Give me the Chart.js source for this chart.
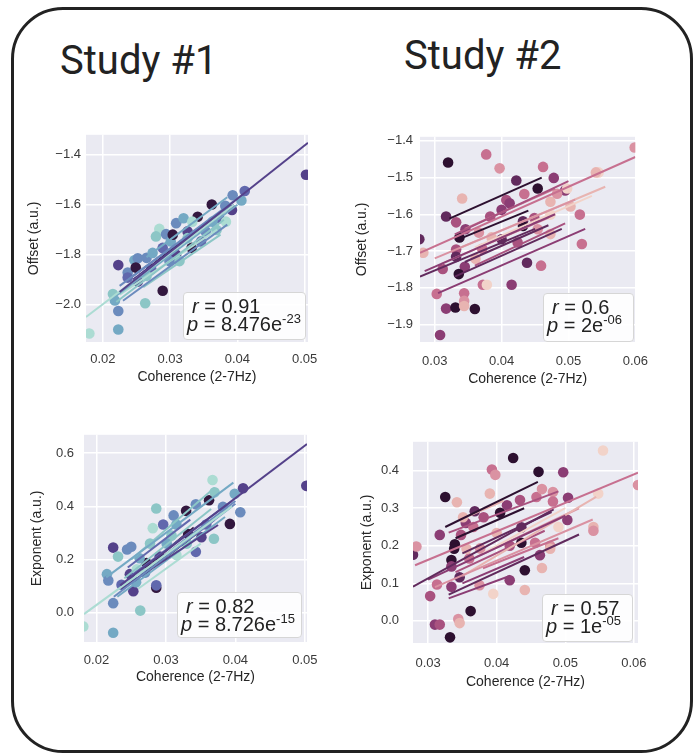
<!DOCTYPE html>
<html>
<head>
<meta charset="utf-8">
<script src="https://cdn.jsdelivr.net/npm/chart.js@4.4.1/dist/chart.umd.min.js"></script>
<style>
  body { margin: 0; background: #fff; width: 693px; height: 755px; overflow: hidden; position: relative;
         font-family: "Liberation Sans", Arial, sans-serif; }
  #frame { position: absolute; left: 11px; top: 7px; width: 676px; height: 740px;
           border: 3px solid #222; border-radius: 52px; }
  .title { position: absolute; font-family: Roboto, sans-serif; font-size: 40px; color: #222; line-height: 1; }
  canvas { position: absolute; }
  .stat { position: absolute; box-sizing: border-box; background: rgba(255,255,255,0.88);
          border: 1px solid #d6d6d6; border-radius: 4px; font-size: 20px; color: #222;
          line-height: 18px; padding: 4px 0 0 3px; white-space: nowrap; }
  .stat .r { padding-left: 5px; }
  .stat sup { font-size: 13px; line-height: 0; vertical-align: 8px; }
</style>
</head>
<body>
<div id="frame"></div>
<div class="title" style="left:60px;top:41px">Study #1</div>
<div class="title" style="left:404px;top:36px">Study #2</div>

<canvas id="s1off"></canvas>
<canvas id="s2off"></canvas>
<canvas id="s1exp"></canvas>
<canvas id="s2exp"></canvas>

<div class="stat" style="left:183px;top:292px;width:123px;height:48px">
  <div class="r"><i>r</i> = 0.91</div><div><i>p</i> = 8.476e<sup>-23</sup></div></div>
<div class="stat" style="left:543px;top:293px;width:91px;height:49px">
  <div class="r"><i>r</i> = 0.6</div><div><i>p</i> = 2e<sup>-06</sup></div></div>
<div class="stat" style="left:177px;top:592px;width:125px;height:46px">
  <div class="r"><i>r</i> = 0.82</div><div><i>p</i> = 8.726e<sup>-15</sup></div></div>
<div class="stat" style="left:542px;top:594px;width:91px;height:48px">
  <div class="r"><i>r</i> = 0.57</div><div><i>p</i> = 1e<sup>-05</sup></div></div>

<script>
// colour levels (one per subject group), light -> dark
const study1Colors = ['#acdcd3', '#8cc6c6', '#74a9c4', '#6b8bbd', '#6168ad', '#54418a', '#33183f'];
const study2Colors = ['#f2d3c9', '#e8b4b1', '#da92a2', '#c77090', '#a9527f', '#8b3d74', '#612a5d', '#2d1030'];

// tick labels
const study1CohTicks = [0.02, 0.03, 0.04, 0.05];
const study2CohTicks = [0.03, 0.04, 0.05, 0.06];
const study1OffsetTicks = [-2.0, -1.8, -1.6, -1.4];
const study2OffsetTicks = [-1.9, -1.8, -1.7, -1.6, -1.5, -1.4];
const study1ExpTicks = [0.0, 0.2, 0.4, 0.6];
const study2ExpTicks = [0.0, 0.1, 0.2, 0.3, 0.4];

// points: [coherence, value, colour level]
const study1OffsetPts = [
  [0.0502,-1.480,5],[0.0180,-2.116,0],[0.0223,-2.100,2],[0.0223,-2.026,3],[0.0263,-1.995,1],
  [0.0289,-1.945,6],[0.0215,-1.958,1],[0.0218,-1.984,2],[0.0223,-1.842,5],[0.0237,-1.872,3],
  [0.0252,-1.908,5],[0.0247,-1.823,2],[0.0252,-1.815,3],[0.0265,-1.813,3],[0.0284,-1.697,0],
  [0.0279,-1.727,1],[0.0294,-1.718,3],[0.0309,-1.674,3],[0.0320,-1.654,2],[0.0326,-1.707,5],
  [0.0341,-1.648,6],[0.0362,-1.599,6],[0.0382,-1.604,3],[0.0392,-1.621,5],[0.0406,-1.583,2],
  [0.0411,-1.545,4],[0.0369,-1.701,1],[0.0346,-1.747,4],[0.0332,-1.773,6],[0.0309,-1.800,5],
  [0.0272,-1.859,4],[0.0265,-1.885,1],[0.0249,-1.852,6],[0.0274,-1.793,2],[0.0289,-1.773,4],
  [0.0301,-1.747,2],[0.0326,-1.734,1],[0.0353,-1.707,3],[0.0373,-1.654,4],[0.0333,-1.668,0],
  [0.0304,-1.720,6],[0.0314,-1.826,1],[0.0237,-1.892,4],[0.0363,-1.668,2],[0.0299,-1.826,3],
  [0.0383,-1.668,0],[0.0393,-1.562,3]
];
const study2OffsetPts = [
  [0.0599,-1.418,2],[0.0320,-1.459,7],[0.0377,-1.437,3],[0.0397,-1.475,2],[0.0462,-1.471,3],
  [0.0478,-1.501,5],[0.0422,-1.508,6],[0.0454,-1.530,7],[0.0495,-1.535,5],[0.0545,-1.486,0],
  [0.0541,-1.486,1],[0.0341,-1.557,1],[0.0317,-1.606,6],[0.0332,-1.622,4],[0.0337,-1.663,7],
  [0.0346,-1.641,5],[0.0277,-1.668,6],[0.0283,-1.705,1],[0.0332,-1.696,4],[0.0332,-1.716,6],
  [0.0312,-1.749,4],[0.0345,-1.743,5],[0.0336,-1.763,7],[0.0303,-1.817,3],[0.0317,-1.857,5],
  [0.0331,-1.854,7],[0.0360,-1.858,7],[0.0344,-1.815,3],[0.0344,-1.836,2],[0.0344,-1.850,1],
  [0.0308,-1.929,5],[0.0372,-1.792,3],[0.0378,-1.792,0],[0.0415,-1.792,5],[0.0438,-1.732,6],
  [0.0459,-1.740,3],[0.0520,-1.681,3],[0.0517,-1.601,3],[0.0473,-1.654,1],[0.0432,-1.619,6],
  [0.0432,-1.632,7],[0.0400,-1.588,5],[0.0407,-1.561,4],[0.0434,-1.545,3],[0.0473,-1.566,1],
  [0.0483,-1.544,2],[0.0498,-1.530,0],[0.0383,-1.606,4],[0.0366,-1.650,2],[0.0385,-1.663,1],
  [0.0400,-1.668,6],[0.0424,-1.677,4],[0.0454,-1.641,2],[0.0473,-1.601,0],[0.0361,-1.721,1],
  [0.0371,-1.694,3],[0.0449,-1.610,4],[0.0412,-1.570,5],[0.0503,-1.579,1]
];
const study1ExpPts = [
  [0.0502,0.477,5],[0.0181,-0.052,0],[0.0224,-0.075,2],[0.0224,0.036,3],[0.0263,0.008,1],
  [0.0286,0.094,6],[0.0215,0.145,2],[0.0217,0.121,3],[0.0224,0.245,5],[0.0231,0.211,1],
  [0.0236,0.105,4],[0.0248,0.145,5],[0.0253,0.081,5],[0.0257,0.115,2],[0.0244,0.238,3],
  [0.0250,0.248,3],[0.0286,0.392,1],[0.0281,0.318,0],[0.0296,0.332,4],[0.0308,0.290,1],
  [0.0311,0.366,3],[0.0329,0.383,6],[0.0343,0.408,3],[0.0362,0.423,6],[0.0367,0.499,0],
  [0.0370,0.453,1],[0.0382,0.398,3],[0.0392,0.334,6],[0.0399,0.447,2],[0.0411,0.468,5],
  [0.0407,0.378,3],[0.0369,0.278,1],[0.0343,0.229,4],[0.0330,0.260,1],[0.0351,0.284,5],
  [0.0286,0.103,4],[0.0270,0.151,3],[0.0258,0.163,0],[0.0291,0.211,5],[0.0272,0.187,6],
  [0.0315,0.217,0],[0.0332,0.296,6],[0.0301,0.260,2],[0.0315,0.332,2],[0.0277,0.260,1],
  [0.0262,0.205,2],[0.0358,0.332,4]
];
const study2ExpPts = [
  [0.0555,0.454,0],[0.0606,0.362,2],[0.0424,0.434,7],[0.0461,0.397,7],[0.0497,0.396,5],
  [0.0393,0.403,3],[0.0398,0.389,2],[0.0325,0.330,7],[0.0390,0.339,1],[0.0342,0.316,1],
  [0.0278,0.176,6],[0.0283,0.198,2],[0.0317,0.229,5],[0.0339,0.204,7],[0.0355,0.261,5],
  [0.0334,0.162,7],[0.0334,0.145,5],[0.0348,0.229,4],[0.0346,0.116,6],[0.0313,0.097,3],
  [0.0303,0.066,4],[0.0310,-0.010,5],[0.0317,-0.010,4],[0.0332,-0.044,7],[0.0362,0.026,7],
  [0.0344,0.005,2],[0.0346,-0.006,1],[0.0334,0.091,5],[0.0375,0.095,2],[0.0395,0.072,0],
  [0.0419,0.108,5],[0.0441,0.082,1],[0.0441,0.135,7],[0.0436,0.208,7],[0.0436,0.249,6],
  [0.0405,0.288,7],[0.0434,0.322,4],[0.0458,0.330,3],[0.0466,0.351,2],[0.0482,0.343,2],
  [0.0482,0.318,3],[0.0503,0.269,5],[0.0504,0.328,5],[0.0541,0.250,1],[0.0541,0.240,2],
  [0.0548,0.339,0],[0.0478,0.200,2],[0.0478,0.192,1],[0.0463,0.175,5],[0.0466,0.141,1],
  [0.0490,0.250,0],[0.0456,0.208,3],[0.0376,0.193,2],[0.0366,0.250,3],[0.0381,0.276,4],
  [0.0400,0.234,1],[0.0368,0.292,6],[0.0351,0.276,1],[0.0415,0.308,5],[0.0419,0.200,4],
  [0.0360,0.166,3],[0.0356,0.192,1],[0.0338,0.192,7]
];

// per-subject fit lines: [x1, y1, x2, y2, colour level]
const study1OffsetFits = [
  [0.0225,-1.950,0.0505,-1.352,5],[0.0175,-2.050,0.0395,-1.600,0],[0.0215,-1.975,0.0400,-1.600,2],
  [0.0220,-1.990,0.0380,-1.660,1],[0.0225,-1.925,0.0395,-1.585,3],[0.0235,-1.905,0.0390,-1.600,4],
  [0.0245,-1.900,0.0360,-1.670,5],[0.0265,-1.860,0.0345,-1.690,6],[0.0225,-1.960,0.0370,-1.700,0],
  [0.0230,-1.985,0.0385,-1.680,3],[0.0260,-1.930,0.0375,-1.720,1],[0.0255,-1.880,0.0395,-1.600,5],
  [0.0280,-1.830,0.0345,-1.690,6],[0.0265,-1.810,0.0385,-1.570,2],[0.0270,-1.850,0.0350,-1.680,4]
];
const study2OffsetFits = [
  [0.0322,-1.612,0.0460,-1.500,7],[0.0278,-1.705,0.0600,-1.444,3],[0.0278,-1.770,0.0450,-1.640,6],
  [0.0285,-1.755,0.0480,-1.600,5],[0.0330,-1.655,0.0500,-1.510,4],[0.0300,-1.720,0.0510,-1.560,2],
  [0.0340,-1.690,0.0555,-1.525,1],[0.0360,-1.690,0.0535,-1.550,0],[0.0330,-1.770,0.0490,-1.640,6],
  [0.0340,-1.665,0.0440,-1.590,7],[0.0305,-1.815,0.0525,-1.640,5],[0.0360,-1.740,0.0495,-1.625,4],
  [0.0345,-1.640,0.0480,-1.530,3],[0.0380,-1.680,0.0470,-1.610,2],[0.0345,-1.730,0.0470,-1.630,6],
  [0.0310,-1.735,0.0430,-1.640,1]
];
const study1ExpFits = [
  [0.0234,0.103,0.0503,0.634,5],[0.0182,-0.005,0.0395,0.400,0],[0.0214,0.133,0.0397,0.489,2],
  [0.0225,0.060,0.0400,0.410,3],[0.0240,0.130,0.0365,0.390,1],[0.0250,0.140,0.0395,0.420,4],
  [0.0235,0.090,0.0375,0.330,5],[0.0270,0.150,0.0345,0.300,6],[0.0230,0.060,0.0385,0.360,2],
  [0.0260,0.090,0.0350,0.260,0],[0.0265,0.150,0.0400,0.420,3],[0.0255,0.120,0.0370,0.350,5],
  [0.0280,0.190,0.0340,0.320,6],[0.0250,0.200,0.0370,0.470,1],[0.0245,0.170,0.0335,0.350,4]
];
const study2ExpFits = [
  [0.0281,0.148,0.0606,0.395,3],[0.0325,0.250,0.0460,0.370,7],[0.0278,0.091,0.0483,0.297,6],
  [0.0300,0.110,0.0500,0.280,5],[0.0330,0.235,0.0490,0.345,4],[0.0310,0.090,0.0540,0.270,2],
  [0.0350,0.120,0.0545,0.330,1],[0.0380,0.180,0.0500,0.300,0],[0.0330,0.070,0.0520,0.230,6],
  [0.0340,0.220,0.0440,0.300,7],[0.0350,0.100,0.0440,0.170,5],[0.0380,0.140,0.0490,0.220,3],
  [0.0340,0.130,0.0470,0.240,4],[0.0370,0.170,0.0520,0.300,2],[0.0350,0.180,0.0480,0.290,6],
  [0.0330,0.060,0.0420,0.120,5],[0.0360,0.280,0.0410,0.320,1]
];

// seaborn "darkgrid" background
const plotBg = {
  id: 'plotBg',
  beforeDraw(chart) {
    const a = chart.chartArea, ctx = chart.ctx;
    ctx.save();
    ctx.fillStyle = '#eaeaf2';
    ctx.fillRect(a.left, a.top, a.right - a.left, a.bottom - a.top);
    ctx.restore();
  }
};

const fmt = d => v => v.toFixed(d).replace('-', '\u2212');

function drawPanel(id, pts, fits, colors, xTicks, yTicks, xRange, yRange, yTitle, yDec, box) {
  const cv = document.getElementById(id);
  const left = Math.round(box.yTitleX - 8.4);
  const top = box.top - 10;
  const xAxisH = Math.round(box.xTitleY + 8.4 - box.bottom);
  const w = box.right + 22 - left;
  const h = 10 + (box.bottom - box.top) + xAxisH;
  cv.style.left = left + 'px';
  cv.style.top = top + 'px';
  cv.width = w; cv.height = h;

  const datasets = [{
    data: pts.map(p => ({x: p[0], y: p[1]})),
    pointBackgroundColor: pts.map(p => colors[p[2]]),
    pointRadius: 5.3,
    pointBorderWidth: 0,
    order: 2,
    clip: 0
  }];
  fits.forEach(f => datasets.push({
    data: [{x: f[0], y: f[1]}, {x: f[2], y: f[3]}],
    showLine: true,
    borderColor: colors[f[4]],
    borderWidth: 2,
    pointRadius: 0,
    order: 1,
    clip: 0
  }));

  new Chart(cv, {
    type: 'scatter',
    data: { datasets },
    options: {
      responsive: false,
      animation: false,
      devicePixelRatio: 1,
      layout: { padding: { top: 10, right: 22, left: 0, bottom: 0 } },
      plugins: { legend: { display: false }, tooltip: { enabled: false } },
      scales: {
        x: {
          min: xRange[0], max: xRange[1],
          afterBuildTicks: s => { s.ticks = xTicks.map(v => ({value: v})); },
          afterFit: s => { s.height = xAxisH; },
          grid: { color: '#ffffff', lineWidth: 1.5, drawTicks: false },
          border: { display: false },
          ticks: { callback: fmt(2), color: '#3a3a3a', font: { size: 13 }, padding: box.xPad,
                   maxRotation: 0, autoSkip: false },
          title: { display: true, text: 'Coherence (2-7Hz)', color: '#262626', font: { size: 14 }, padding: 0 }
        },
        y: {
          min: yRange[0], max: yRange[1],
          afterBuildTicks: s => { s.ticks = yTicks.map(v => ({value: v})); },
          afterFit: s => { s.width = box.left - left; },
          grid: { color: '#ffffff', lineWidth: 1.5, drawTicks: false },
          border: { display: false },
          ticks: { callback: fmt(yDec), color: '#3a3a3a', font: { size: 13 }, padding: box.yPad, autoSkip: false },
          title: { display: true, text: yTitle, color: '#262626', font: { size: 14 }, padding: 0 }
        }
      }
    },
    plugins: [plotBg]
  });
}

Chart.defaults.font.family = '"Liberation Sans", Arial, sans-serif';

drawPanel('s1off', study1OffsetPts, study1OffsetFits, study1Colors, study1CohTicks, study1OffsetTicks,
  [0.0175, 0.0505], [-2.150, -1.320], 'Offset (a.u.)', 1,
  { left: 86, top: 132, right: 308, bottom: 342, yTitleX: 34, xTitleY: 378, yPad: 5, xPad: 10 });
drawPanel('s2off', study2OffsetPts, study2OffsetFits, study2Colors, study2CohTicks, study2OffsetTicks,
  [0.0278, 0.0600], [-1.948, -1.389], 'Offset (a.u.)', 1,
  { left: 420, top: 132, right: 638, bottom: 342, yTitleX: 362, xTitleY: 380, yPad: 7, xPad: 12 });
drawPanel('s1exp', study1ExpPts, study1ExpFits, study1Colors, study1CohTicks, study1ExpTicks,
  [0.0182, 0.0503], [-0.110, 0.669], 'Exponent (a.u.)', 1,
  { left: 84, top: 427, right: 307, bottom: 642, yTitleX: 37, xTitleY: 678, yPad: 10, xPad: 11 });
drawPanel('s2exp', study2ExpPts, study2ExpFits, study2Colors, study2CohTicks, study2ExpTicks,
  [0.0278, 0.0606], [-0.059, 0.477], 'Exponent (a.u.)', 1,
  { left: 413, top: 430, right: 638, bottom: 643, yTitleX: 367, xTitleY: 683, yPad: 14, xPad: 13 });
</script>
</body>
</html>
